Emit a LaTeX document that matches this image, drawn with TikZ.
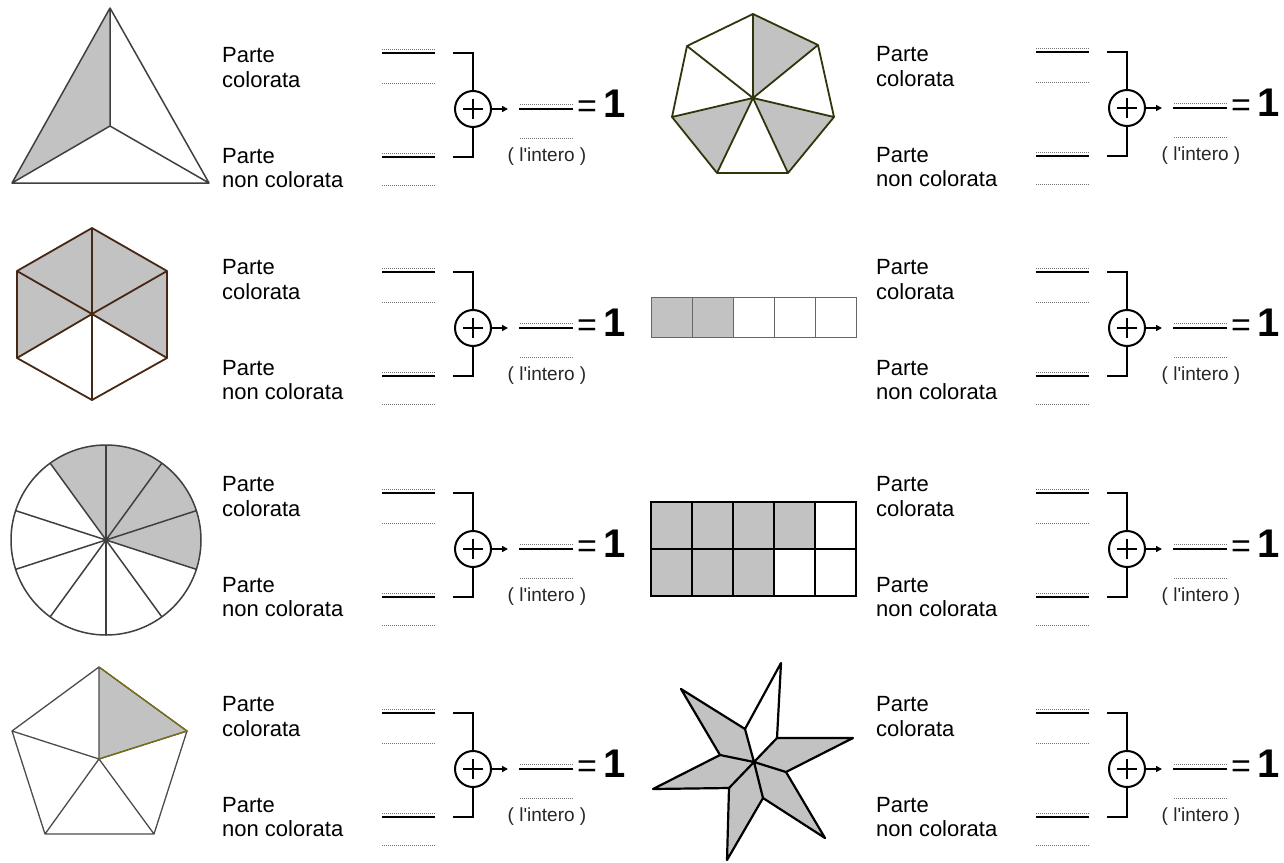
\documentclass[tikz,border=0pt]{standalone}
\usepackage{fontspec}
\setmainfont{Liberation Sans}
\usetikzlibrary{arrows.meta}
\definecolor{shadegray}{RGB}{194,194,194}
\definecolor{olivedk}{RGB}{45,55,10}
\definecolor{browndk}{RGB}{70,40,20}
\definecolor{yellowdk}{RGB}{120,110,20}
\tikzset{
  lbl/.style={anchor=base west, inner sep=0pt, font=\fontsize{22}{26}\selectfont},
  solidln/.style={line width=2.5pt},
  dotln/.style={line width=0.9pt, dash pattern=on 1pt off 1pt, black!55},
  brk/.style={line width=2pt},
  sumnode/.style={circle, draw, line width=2pt, minimum size=36pt, inner sep=0pt},
  eqnode/.style={anchor=base west, inner sep=0pt},
  intnode/.style={anchor=base, inner sep=0pt, font=\fontsize{19}{22}\selectfont, black!85},
  figedge/.style={line width=1.5pt, draw=black!75, line join=round},
}
\newcommand\hln[5]{% name, x1, x2, y, style
  \coordinate (#1l) at (#2,#4);
  \coordinate (#1r) at (#3,#4);
  \draw[#5] (#1l) -- (#1r);}
\newcommand\eqone{{\fontsize{34}{36}\selectfont=}\hspace{6pt}{\fontsize{40}{44}\selectfont\bfseries 1}}
\newcommand\fracblock[4]{% x offset, circle y, name, label shift
\begin{scope}[shift={(#1,#2)}]
  \node[lbl] (#3pa) at (222,{-54+(#4)}) {Parte};
  \node[lbl] (#3pb) at (222,{-29+(#4)}) {colorata};
  \node[lbl] (#3pc) at (222,{47+(#4)}) {Parte};
  \node[lbl] (#3pd) at (222,{71+(#4)}) {non colorata};
  \hln{#3la}{382}{435}{-60}{dotln}
  \hln{#3lb}{382}{435}{-56}{solidln}
  \hln{#3lc}{382}{435}{-26}{dotln}
  \hln{#3ld}{382}{435}{44}{dotln}
  \hln{#3le}{382}{435}{48}{solidln}
  \hln{#3lf}{382}{435}{76}{dotln}
  \node[sumnode] (#3s) at (473,0) {};
  \draw[brk] ([xshift=-10pt]#3s.center) -- ([xshift=10pt]#3s.center);
  \draw[brk] ([yshift=-10pt]#3s.center) -- ([yshift=10pt]#3s.center);
  \coordinate (#3bt) at (453,-56);
  \coordinate (#3bb) at (453,48);
  \draw[brk] (#3bt) -- (#3bt -| #3s.north) -- (#3s.north);
  \draw[brk] (#3bb) -- (#3bb -| #3s.south) -- (#3s.south);
  \coordinate (#3ar) at (508,0);
  \draw[line width=1.5pt, -{Triangle[length=6pt,width=6pt]}] (#3s.east) -- (#3ar);
  \hln{#3ra}{520}{573}{-5}{dotln}
  \hln{#3rb}{519}{573}{0}{solidln}
  \hln{#3rc}{520}{573}{29}{dotln}
  \node[eqnode] (#3eq) at (577,8) {\eqone};
  \node[intnode] (#3in) at (547,52) {( l\textquotesingle intero )};
\end{scope}}
\begin{document}
\begin{tikzpicture}[x=1pt,y=-1pt]
\useasboundingbox (0,0) rectangle (1284,862);
\fill[white] (0,0) rectangle (1284,862);

% ---------- triangle ----------
\coordinate (tA) at (110,8);
\coordinate (tL) at (12,183);
\coordinate (tR) at (209,183);
\coordinate (tC) at (110,126);
\fill[shadegray] (tA) -- (tC) -- (tL) -- cycle;
\draw[figedge] (tA) -- (tL) -- (tR) -- cycle (tA) -- (tC) (tL) -- (tC) -- (tR);

% ---------- heptagon ----------
\coordinate (h1) at (753,14);
\coordinate (h2) at (818,45);
\coordinate (h3) at (834,117);
\coordinate (h4) at (788,173);
\coordinate (h5) at (717,173);
\coordinate (h6) at (672,117);
\coordinate (h7) at (687,46);
\coordinate (hC) at (753,98);
\fill[shadegray] (h1) -- (h2) -- (hC) -- cycle (h3) -- (h4) -- (hC) -- cycle (h5) -- (h6) -- (hC) -- cycle;
\draw[figedge, draw=olivedk, line width=1.8pt] (h1) -- (h2) -- (h3) -- (h4) -- (h5) -- (h6) -- (h7) -- cycle
  (hC) -- (h1) (hC) -- (h2) (hC) -- (h3) (hC) -- (h4) (hC) -- (h5) (hC) -- (h6) (hC) -- (h7);

% ---------- hexagon ----------
\coordinate (x1) at (92,228);
\coordinate (x2) at (167,271);
\coordinate (x3) at (167,358);
\coordinate (x4) at (92,400);
\coordinate (x5) at (17,358);
\coordinate (x6) at (17,271);
\coordinate (xC) at (92,314);
\fill[shadegray] (xC) -- (x3) -- (x2) -- (x1) -- (x6) -- (x5) -- cycle;
\draw[figedge, draw=browndk, line width=1.8pt] (x1) -- (x2) -- (x3) -- (x4) -- (x5) -- (x6) -- cycle
  (xC) -- (x1) (xC) -- (x2) (xC) -- (x3) (xC) -- (x4) (xC) -- (x5) (xC) -- (x6);

% ---------- circle ----------
\coordinate (cC) at (106,540);
\fill[shadegray] (cC) -- ++(-126:95) arc[start angle=-126, end angle=18, radius=95] -- cycle;
\draw[figedge] (cC) circle[radius=95];
\foreach \a in {-90,-54,-18,18,54,90,126,162,198,234}
  \draw[figedge] (cC) -- ++(\a:95);

% ---------- pentagon ----------
\coordinate (p1) at (99,667);
\coordinate (p2) at (187,731);
\coordinate (p3) at (154,834);
\coordinate (p4) at (45,834);
\coordinate (p5) at (12,731);
\coordinate (pC) at (99,759);
\fill[shadegray] (p1) -- (p2) -- (pC) -- cycle;
\draw[figedge, line width=1.3pt, draw=black!70] (p1) -- (p2) -- (p3) -- (p4) -- (p5) -- cycle
  (pC) -- (p1) (pC) -- (p2) (pC) -- (p3) (pC) -- (p4) (pC) -- (p5);
\draw[line width=1.3pt, yellowdk] (p1) -- (p2) -- (pC);

% ---------- strip ----------
\fill[shadegray] (651,297) rectangle (733,337);
\draw[line width=0.8pt, black!60] (651,297) rectangle (856,337);
\foreach \i in {1,2,3,4}
  \draw[line width=0.8pt, black!60] ({651+41*\i},297) -- ({651+41*\i},337);

% ---------- grid ----------
\fill[shadegray] (651,502) rectangle (815,549);
\fill[shadegray] (651,549) rectangle (774,596);
\draw[line width=2pt] (651,502) rectangle (856,596);
\draw[line width=2pt] (651,549) -- (856,549);
\foreach \i in {1,2,3,4}
  \draw[line width=2pt] ({651+41*\i},502) -- ({651+41*\i},596);

% ---------- star ----------
\coordinate (sC) at (754,762);
\coordinate (o1) at (781,663);
\coordinate (v1) at (777,738);
\coordinate (o2) at (853,738);
\coordinate (v2) at (786,772);
\coordinate (o3) at (825,838);
\coordinate (v3) at (763,798);
\coordinate (o4) at (727,860);
\coordinate (v4) at (729,788);
\coordinate (o5) at (653,789);
\coordinate (v5) at (720,755);
\coordinate (o6) at (681,689);
\coordinate (v6) at (745,729);
\fill[shadegray] (sC) -- (v1) -- (o2) -- (v2) -- (o3) -- (v3) -- (o4) -- (v4) -- (o5) -- (v5) -- (o6) -- (v6) -- cycle;
\draw[line width=2.2pt, line join=round] (o1) -- (v1) -- (o2) -- (v2) -- (o3) -- (v3) -- (o4) -- (v4) -- (o5) -- (v5) -- (o6) -- (v6) -- cycle
  (sC) -- (v1) (sC) -- (v2) (sC) -- (v3) (sC) -- (v4) (sC) -- (v5) (sC) -- (v6);

% ---------- fraction blocks ----------
\fracblock{0}{109}{A}{7}
\fracblock{0}{328}{B}{0}
\fracblock{0}{549}{C}{-4}
\fracblock{0}{769}{D}{-4}
\fracblock{654}{108}{E}{7}
\fracblock{654}{328}{F}{0}
\fracblock{654}{549}{G}{-4}
\fracblock{654}{769}{H}{-4}
\end{tikzpicture}
\end{document}
